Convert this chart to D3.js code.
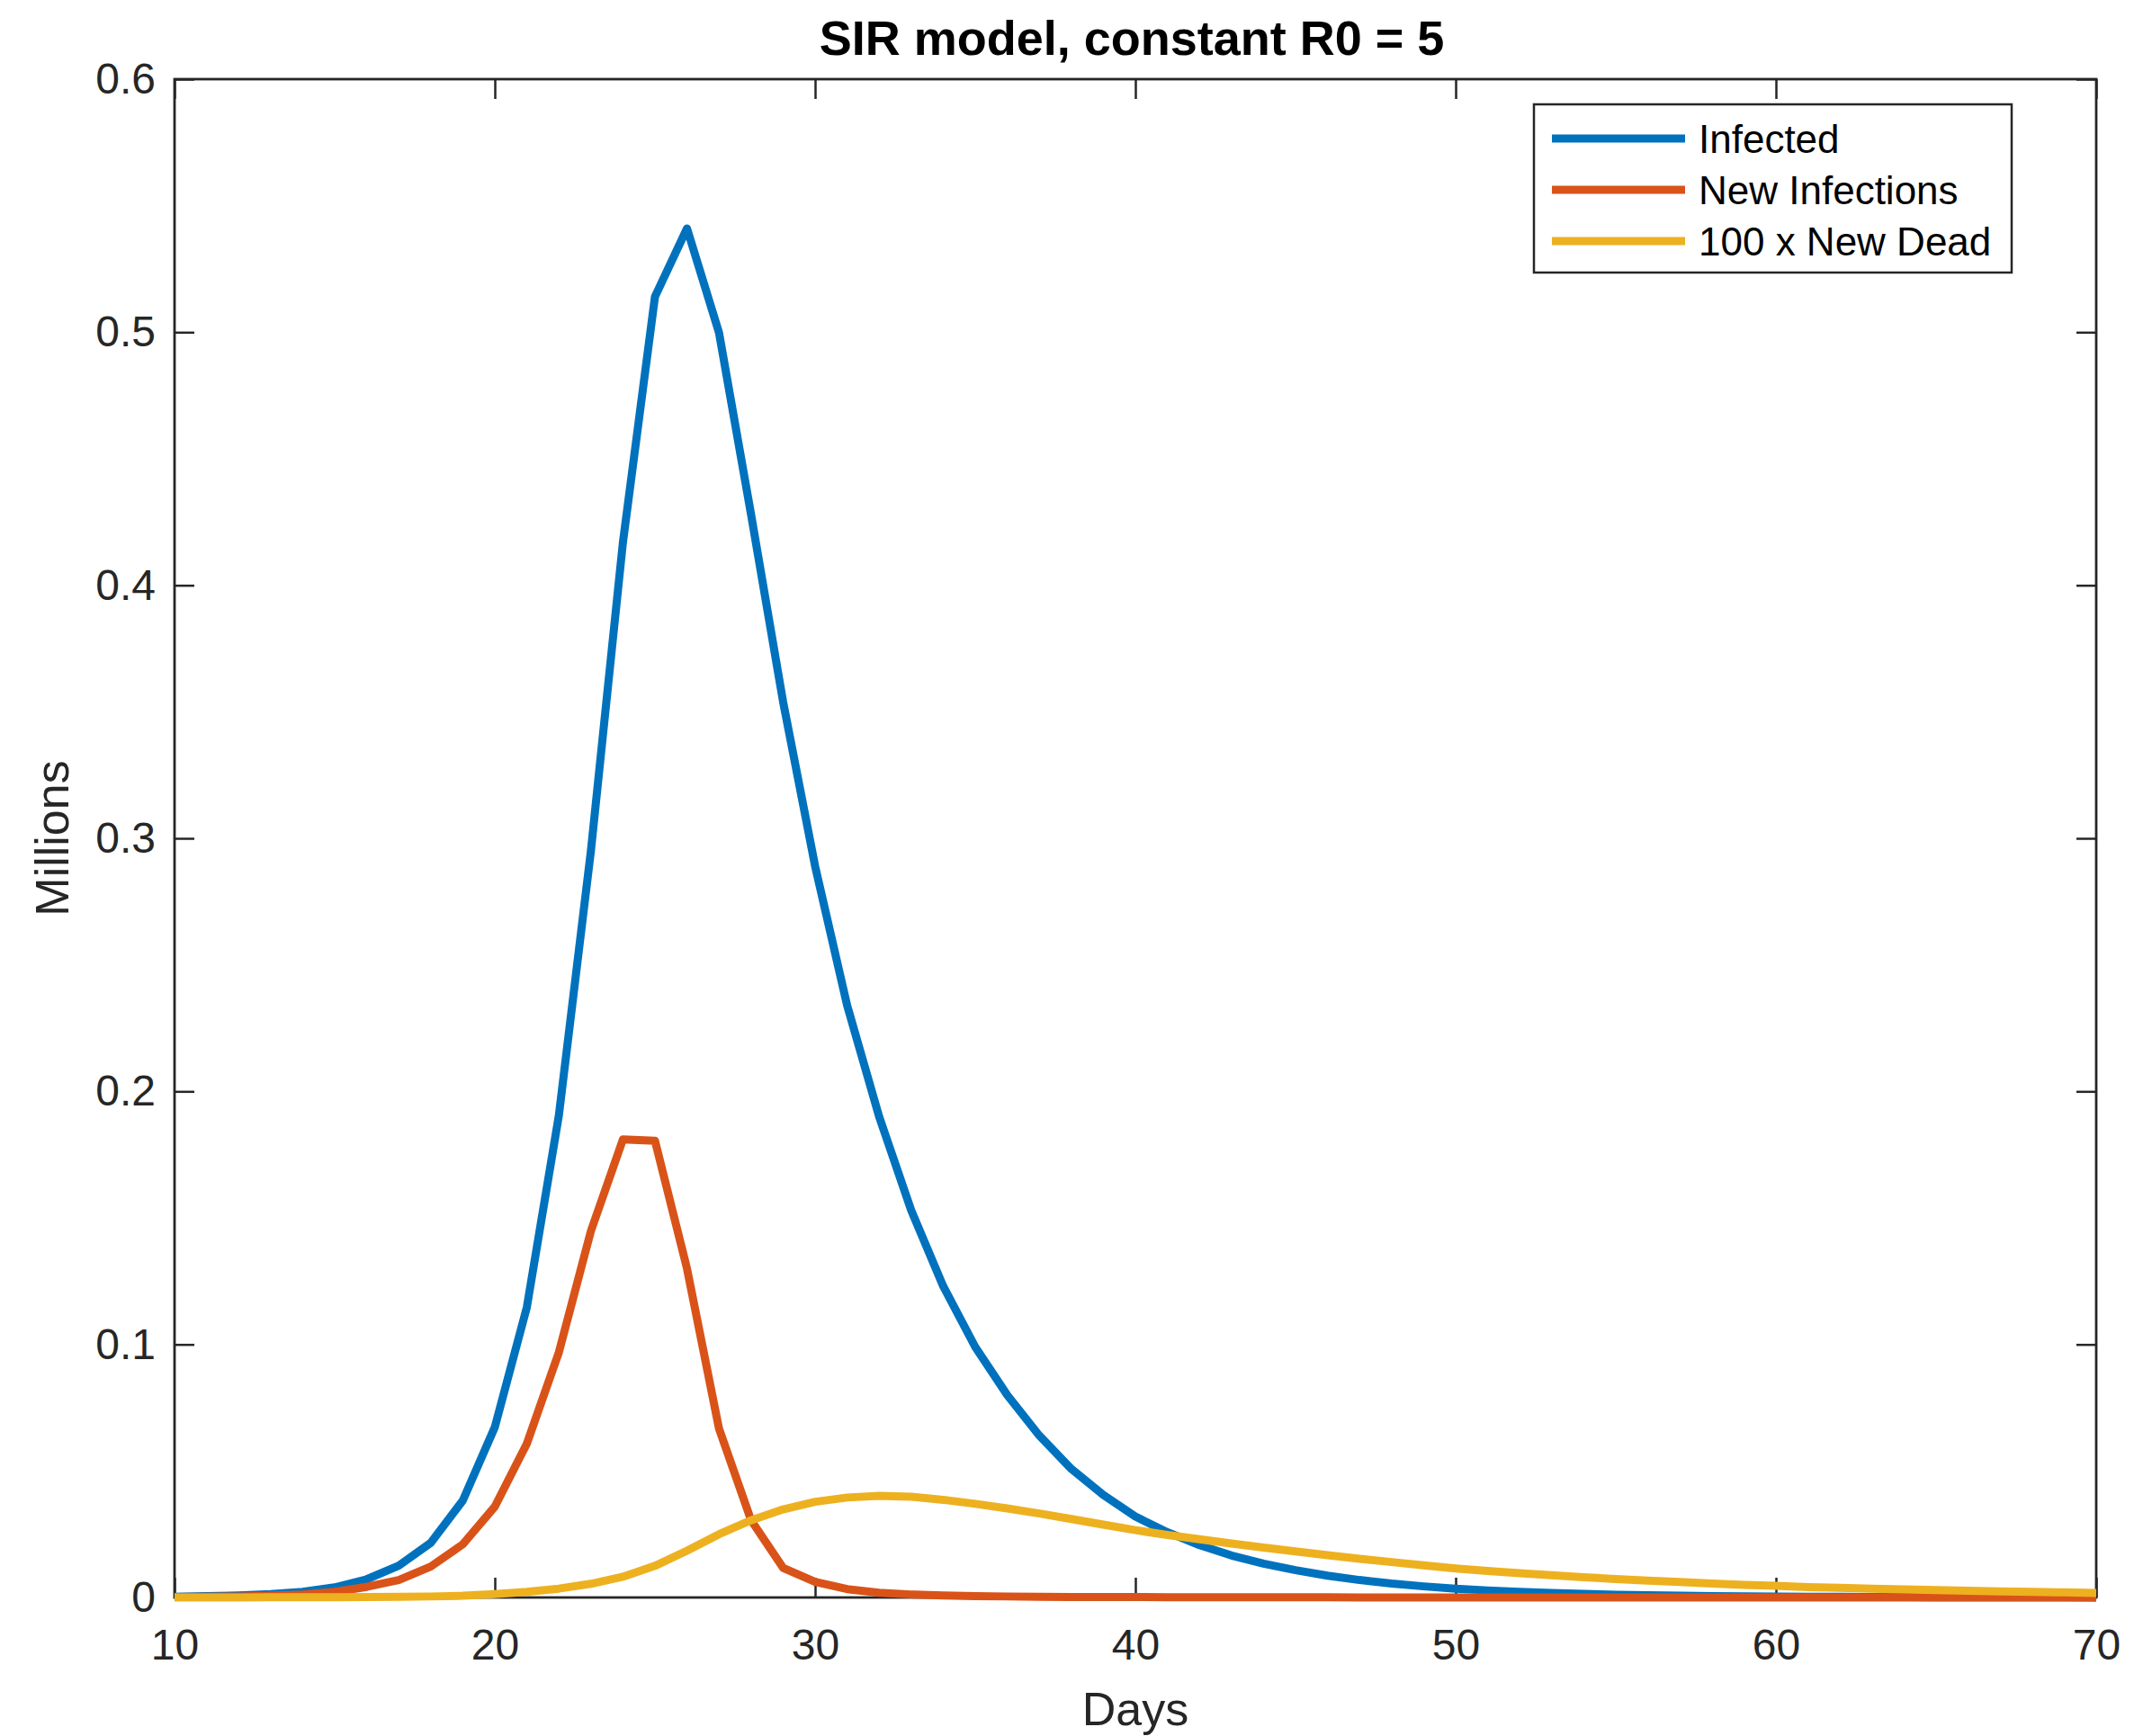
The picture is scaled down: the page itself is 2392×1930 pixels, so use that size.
<!DOCTYPE html>
<html>
<head>
<meta charset="utf-8">
<script src="https://cdn.jsdelivr.net/npm/d3@7"></script>
<style>
  body { margin: 0; background: #fff; }
  text { font-family: "Liberation Sans", Arial, Helvetica, sans-serif; fill: #262626; }
</style>
</head>
<body>
<svg id="chart" width="2392" height="1930"></svg>
<script>
// data, one value per day from day 10 to day 70
const days = d3.range(10, 71);

const infected = [
  0.0003, 0.0005, 0.0008, 0.0013, 0.0022,
  0.0040, 0.0072, 0.0126, 0.0216, 0.0383,
  0.0673, 0.1147, 0.1905, 0.295, 0.417,
  0.514, 0.541, 0.4998, 0.428, 0.354,
  0.289, 0.234, 0.190, 0.153, 0.123,
  0.099, 0.080, 0.064, 0.0508, 0.0405,
  0.032, 0.0258, 0.0207, 0.0166, 0.0134,
  0.0108, 0.0086, 0.0069, 0.0055, 0.0044,
  0.0035, 0.0028, 0.0022, 0.0018, 0.0014,
  0.0011, 0.0009, 0.0007, 0.00056, 0.00045,
  0.00036, 0.00029, 0.00023, 0.00018, 0.00015,
  0.00012, 0.0001, 0.00008, 0.00006, 0.00005,
  0.00004
];

const newInfections = [
  0.0002, 0.0003, 0.0004, 0.0007, 0.0012,
  0.0022, 0.0042, 0.0069, 0.0122, 0.0210,
  0.0359, 0.0608, 0.0969, 0.1448, 0.181,
  0.1805, 0.130, 0.0667, 0.0306, 0.0117,
  0.0062, 0.0033, 0.0019, 0.0012, 0.0008,
  0.0005, 0.0004, 0.0003, 0.0002, 0.0002,
  0.00015, 0.00012, 0.0001, 0.00008, 0.00007,
  0.00006, 0.00005, 0.00004, 0.00003, 0.00003,
  0.00002, 0.00002, 0.00002, 0.00001, 0.00001,
  0.00001, 0.00001, 0.00001, 0.00001, 0.00001,
  0.0, 0.0, 0.0, 0.0, 0.0,
  0.0, 0.0, 0.0, 0.0, 0.0,
  0.0
];

const newDead100 = [
  0.0000, 0.0000, 0.0000, 0.0001, 0.0001,
  0.0001, 0.0002, 0.0003, 0.0004, 0.0007,
  0.0013, 0.0022, 0.0035, 0.0054, 0.0082,
  0.0125, 0.0185, 0.0250, 0.0305, 0.0348,
  0.0378, 0.0395, 0.0402, 0.0398, 0.0386,
  0.0370, 0.0352, 0.0332, 0.0310, 0.0288,
  0.0266, 0.0247, 0.0230, 0.0213, 0.0197,
  0.0182, 0.0167, 0.0153, 0.0140, 0.0127,
  0.0115, 0.0105, 0.0096, 0.0088, 0.0080,
  0.0073, 0.0067, 0.0061, 0.0055, 0.0050,
  0.0046, 0.0041, 0.0038, 0.0035, 0.0032,
  0.0029, 0.0027, 0.0024, 0.0022, 0.0020,
  0.0018
];

const seriesNames = ["Infected", "New Infections", "100 x New Dead"];
const seriesColors = ["#0072BD", "#D95319", "#EDB120"];
const xTicks = [10, 20, 30, 40, 50, 60, 70];
const yTicks = [0, 0.1, 0.2, 0.3, 0.4, 0.5, 0.6];

const svg = d3.select("#chart");
const plotL = 194, plotR = 2330, plotT = 88, plotB = 1776;
const axisColor = "#262626";

const x = d3.scaleLinear().domain([10, 70]).range([plotL, plotR]);
const y = d3.scaleLinear().domain([0, 0.6]).range([plotB, plotT]);
const fmt = d3.format("~g");

// box and ticks (drawn under the lines, like matlab's default layer)
function styleAxis(g) {
  g.select(".domain").remove();
  g.selectAll(".tick line").attr("stroke", axisColor).attr("stroke-width", 2.5);
  g.attr("font-family", null).attr("font-size", null);
}

svg.append("g").attr("transform", `translate(0,${plotB})`)
  .call(d3.axisBottom(x).tickValues(xTicks).tickSize(-22).tickPadding(35).tickFormat(fmt))
  .call(styleAxis)
  .selectAll("text").attr("font-size", 48).style("fill", axisColor);

svg.append("g").attr("transform", `translate(0,${plotT})`)
  .call(d3.axisTop(x).tickValues(xTicks).tickSize(-22).tickFormat(""))
  .call(styleAxis);

svg.append("g").attr("transform", `translate(${plotL},0)`)
  .call(d3.axisLeft(y).tickValues(yTicks).tickSize(-22).tickPadding(21).tickFormat(fmt))
  .call(styleAxis)
  .selectAll("text").attr("font-size", 48).style("fill", axisColor);

svg.append("g").attr("transform", `translate(${plotR},0)`)
  .call(d3.axisRight(y).tickValues(yTicks).tickSize(-22).tickFormat(""))
  .call(styleAxis);

svg.append("rect")
  .attr("x", plotL).attr("y", plotT)
  .attr("width", plotR - plotL).attr("height", plotB - plotT)
  .attr("fill", "none").attr("stroke", axisColor).attr("stroke-width", 2.8);

// curves
const allSeries = [infected, newInfections, newDead100];
const line = d3.line()
  .x((d, i) => x(days[i]))
  .y(d => y(d));

svg.append("g").selectAll("path")
  .data(allSeries)
  .enter().append("path")
  .attr("d", line)
  .attr("fill", "none")
  .attr("stroke", (d, i) => seriesColors[i])
  .attr("stroke-width", 9)
  .attr("stroke-linejoin", "round");

// title and axis labels
svg.append("text")
  .attr("x", (plotL + plotR) / 2 - 4).attr("y", 61)
  .attr("text-anchor", "middle")
  .attr("font-size", 54).attr("font-weight", "bold")
  .style("fill", "#000")
  .text("SIR model, constant R0 = 5");

svg.append("text")
  .attr("x", (plotL + plotR) / 2).attr("y", 1918)
  .attr("text-anchor", "middle")
  .attr("font-size", 52)
  .text("Days");

svg.append("text")
  .attr("transform", `translate(76,${(plotT + plotB) / 2}) rotate(-90)`)
  .attr("text-anchor", "middle")
  .attr("font-size", 52)
  .text("Millions");

// legend
const legend = svg.append("g");
legend.append("rect")
  .attr("x", 1705).attr("y", 116)
  .attr("width", 531).attr("height", 187)
  .attr("fill", "#fff").attr("stroke", axisColor).attr("stroke-width", 2.5);

const rows = legend.selectAll("g.row")
  .data(seriesNames)
  .enter().append("g")
  .attr("class", "row")
  .attr("transform", (d, i) => `translate(0,${154 + i * 57})`);

rows.append("line")
  .attr("x1", 1725).attr("x2", 1873)
  .attr("stroke", (d, i) => seriesColors[i])
  .attr("stroke-width", 9);

rows.append("text")
  .attr("x", 1888).attr("dy", "0.36em")
  .attr("font-size", 44)
  .style("fill", "#000")
  .text(d => d);
</script>
</body>
</html>
